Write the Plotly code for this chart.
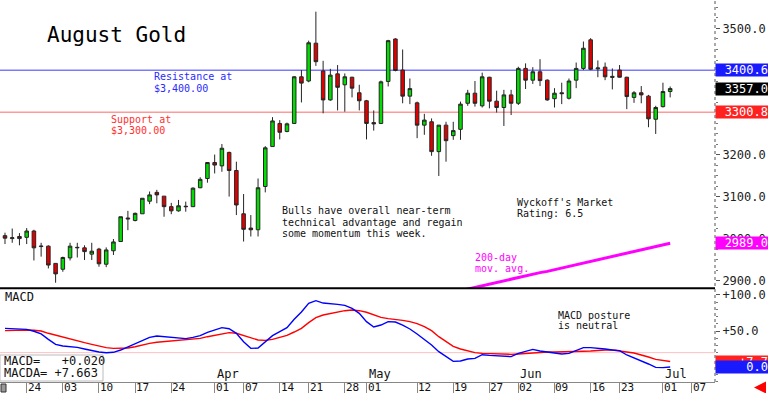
import pandas as pd
import plotly.graph_objects as go

# ---------------- data ----------------
holidays = ["2025-04-18", "2025-05-26", "2025-06-19"]
trade_days = [d for d in pd.bdate_range("2025-02-19", "2025-07-02") if d.strftime("%Y-%m-%d") not in holidays]
future_days = list(pd.bdate_range("2025-07-03", "2025-07-10"))
all_days = trade_days + future_days
day_index = {d.strftime("%Y-%m-%d"): i for i, d in enumerate(all_days)}

opens = [3007, 3000, 3005, 3003, 3018, 2981, 2982, 2941, 2927, 2954,
         2978, 2978, 2963, 2975, 2939, 2971, 2993, 3049, 3043, 3059,
         3089, 3110, 3101, 3076, 3066, 3077, 3076, 3121, 3143, 3181,
         3173, 3205, 3162, 3059, 3025, 3021, 3124, 3219, 3274, 3255,
         3274, 3385, 3375, 3465, 3399, 3330, 3392, 3366, 3384, 3347,
         3328, 3276, 3274, 3374, 3475, 3401, 3339, 3323, 3270, 3278,
         3207, 3270, 3245, 3260, 3322, 3346, 3316, 3384, 3327, 3312,
         3342, 3322, 3405, 3377, 3397, 3377, 3333, 3347, 3334, 3377,
         3405, 3473, 3404, 3408, 3386, 3401, 3384, 3336, 3347, 3339,
         3284, 3314, 3350]
highs = [3014, 3024, 3013, 3025, 3021, 2990, 2984, 2941, 2957, 2990,
         2990, 2984, 2990, 2978, 2979, 2999, 3052, 3066, 3062, 3096,
         3112, 3116, 3101, 3085, 3092, 3088, 3122, 3146, 3182, 3200,
         3225, 3207, 3183, 3106, 3056, 3143, 3220, 3289, 3282, 3276,
         3387, 3401, 3471, 3540, 3423, 3404, 3413, 3393, 3385, 3366,
         3330, 3305, 3376, 3473, 3477, 3450, 3381, 3326, 3297, 3286,
         3270, 3278, 3278, 3326, 3354, 3375, 3395, 3385, 3352, 3354,
         3354, 3409, 3417, 3408, 3427, 3379, 3358, 3371, 3381, 3419,
         3469, 3477, 3424, 3419, 3405, 3413, 3385, 3351, 3363, 3342,
         3316, 3371, 3362]
lows = [2987, 2990, 2984, 2987, 2948, 2957, 2929, 2895, 2921, 2948,
        2955, 2949, 2949, 2933, 2932, 2961, 2993, 3020, 3041, 3059,
        3082, 3084, 3052, 3058, 3064, 3064, 3075, 3120, 3133, 3155,
        3159, 3100, 3056, 2993, 3005, 3005, 3110, 3219, 3236, 3253,
        3273, 3324, 3372, 3411, 3298, 3328, 3305, 3302, 3336, 3305,
        3236, 3257, 3273, 3362, 3398, 3322, 3320, 3239, 3247, 3197,
        3149, 3183, 3235, 3235, 3316, 3314, 3312, 3310, 3300, 3268,
        3294, 3318, 3356, 3368, 3363, 3328, 3312, 3320, 3331, 3358,
        3401, 3401, 3384, 3377, 3355, 3383, 3308, 3323, 3322, 3265,
        3249, 3312, 3336]
closes = [3001, 3002, 3000, 3018, 2978, 2982, 2937, 2916, 2955, 2982,
          2979, 2969, 2970, 2940, 2973, 2992, 3052, 3047, 3060, 3096,
          3104, 3104, 3076, 3066, 3078, 3076, 3120, 3141, 3181, 3175,
          3215, 3162, 3080, 3022, 3021, 3121, 3216, 3280, 3253, 3273,
          3385, 3370, 3466, 3421, 3330, 3389, 3360, 3385, 3358, 3328,
          3274, 3273, 3373, 3471, 3400, 3339, 3357, 3270, 3282, 3207,
          3270, 3233, 3257, 3320, 3346, 3322, 3385, 3327, 3312, 3342,
          3322, 3405, 3377, 3397, 3376, 3330, 3346, 3345, 3375, 3405,
          3453, 3403, 3406, 3385, 3384, 3384, 3338, 3347, 3342, 3285,
          3312, 3350, 3357]

ma200 = [None] * 62 + [2872, 2876, 2880, 2884, 2888, 2892, 2895, 2899, 2903, 2907,
                       2911, 2915, 2919, 2922, 2926, 2930, 2934, 2938, 2942, 2946,
                       2950, 2954, 2958, 2962, 2966, 2970, 2974, 2978, 2982, 2985,
                       2989]

macd = [53.7, 53.2, 52.8, 52.3, 49.6, 45.9, 38.4, 31.5, 29.2, 28.2,
        27.3, 25.0, 22.7, 20.8, 19.9, 20.4, 23.6, 28.2, 31.9, 37.5,
        41.2, 43.1, 42.1, 41.2, 40.3, 39.4, 41.2, 43.5, 48.2, 51.4,
        54.6, 53.2, 46.8, 35.2, 25.9, 26.4, 35.2, 43.5, 49.1, 54.6,
        66.2, 76.4, 88.4, 92.1, 88.8, 88.4, 87.0, 85.6, 81.5, 74.5,
        63.0, 55.5, 58.3, 63.0, 62.5, 58.3, 52.8, 45.9, 38.4, 30.6,
        21.3, 14.4, 7.9, 8.3, 11.1, 12.0, 17.1, 16.2, 15.3, 14.8,
        14.4, 19.0, 21.8, 24.5, 22.2, 20.8, 19.4, 18.1, 19.0, 22.7,
        26.9, 26.9, 26.4, 25.0, 23.6, 22.7, 16.7, 12.5, 9.3, 4.2,
        -0.5, -0.9, 0.02]
macd_avg = [50.5, 51.0, 51.0, 51.4, 51.0, 50.0, 46.8, 44.0, 41.2, 38.9,
            36.6, 33.8, 31.5, 29.2, 26.9, 25.9, 25.9, 26.4, 28.2, 30.6,
            32.9, 34.3, 35.2, 36.6, 37.5, 38.4, 38.9, 39.8, 42.1, 44.0,
            46.3, 47.7, 46.8, 43.5, 40.3, 37.5, 37.0, 38.4, 41.2, 44.0,
            48.6, 53.7, 61.6, 68.5, 72.2, 74.5, 76.4, 78.2, 79.2, 78.2,
            76.0, 72.0, 68.9, 67.1, 66.2, 64.8, 63.0, 60.2, 56.0, 50.5,
            42.1, 35.2, 28.7, 25.0, 22.2, 19.9, 19.0, 18.5, 18.1, 17.6,
            17.6, 18.1, 19.0, 19.4, 20.4, 20.8, 20.8, 20.8, 20.8, 21.3,
            21.8, 22.2, 23.1, 23.6, 23.6, 22.7, 20.8, 19.4, 17.1, 13.9,
            10.6, 8.8, 7.663]

resistance = 3400.6
support = 3300.8
price_ticks = [2900, 3000, 3100, 3200, 3300, 3400, 3500]
price_hidden = [3300, 3400]          # labels covered by the marker boxes
macd_ticks = [0, 50, 100]
macd_ticktext = ["", "+50.0", "+100.0"]
tick_dates = ["2025-02-24", "2025-03-03", "2025-03-10", "2025-03-17", "2025-03-24",
              "2025-04-01", "2025-04-07", "2025-04-14", "2025-04-21", "2025-04-28",
              "2025-05-01", "2025-05-12", "2025-05-19", "2025-05-27", "2025-06-02",
              "2025-06-09", "2025-06-16", "2025-06-23", "2025-07-01", "2025-07-07"]
month_starts = {"Apr": "2025-04-01", "May": "2025-05-01", "Jun": "2025-06-02", "Jul": "2025-07-01"}

notes = {
    "title": "August Gold",
    "res": ["Resistance at", "$3,400.00"],
    "sup": ["Support at", "$3,300.00"],
    "bulls": ["Bulls have overall near-term", "technical advantage and regain",
              "some momentum this week."],
    "rating": ["Wyckoff's Market", "Rating: 6.5"],
    "ma": ["200-day", "mov. avg."],
    "macd_note": ["MACD posture", "is neutral"],
}

# ---------------- figure ----------------
W, H = 768, 393
PW, PH = 715, 382          # plot area in px
MONO = "DejaVu Sans Mono"
xs = list(range(len(closes)))
x_range = [-0.69, 98.2]
price_range = [2882.4, 3567.8]
macd_range = [-20.8, 108.3]


def px(x):
    return x / PW


def py(y):
    return (PH - y) / PH


fig = go.Figure()
fig.add_trace(go.Candlestick(
    x=xs, open=opens, high=highs, low=lows, close=closes,
    xaxis="x", yaxis="y", whiskerwidth=0,
    increasing=dict(fillcolor="#00dd00", line=dict(color="#252525", width=1)),
    decreasing=dict(fillcolor="#e00000", line=dict(color="#252525", width=1)),
    showlegend=False, hoverinfo="skip"))
fig.add_trace(go.Scatter(x=xs, y=ma200, mode="lines", xaxis="x", yaxis="y",
                         line=dict(color="#ff00ff", width=3), showlegend=False))
fig.add_trace(go.Scatter(x=xs, y=macd_avg, mode="lines", xaxis="x2", yaxis="y2",
                         line=dict(color="#ff0000", width=1.4), showlegend=False))
fig.add_trace(go.Scatter(x=xs, y=macd, mode="lines", xaxis="x2", yaxis="y2",
                         line=dict(color="#0000ff", width=1.4), showlegend=False))

split_top = py(288)
split_bot = py(289)
tick_idx = [day_index[d] for d in tick_dates]

fig.update_layout(
    width=W, height=H, margin=dict(l=0, r=W - PW, t=0, b=H - PH),
    paper_bgcolor="white", plot_bgcolor="white", hovermode=False,
    xaxis=dict(domain=[0, 1], anchor="y", range=x_range, showticklabels=False,
               showgrid=False, zeroline=False, rangeslider=dict(visible=False), ticks=""),
    yaxis=dict(domain=[split_top, 1], anchor="x", side="right", range=price_range,
               tickvals=price_ticks,
               ticktext=["" if v in price_hidden else f"{v:.1f}" for v in price_ticks],
               ticks="outside", ticklen=4, tickcolor="#555",
               minor=dict(dtick=25, ticks="outside", ticklen=2, tickcolor="#777"),
               tickfont=dict(family=MONO, size=12, color="#222"),
               showgrid=False, zeroline=False, showline=False),
    xaxis2=dict(domain=[0, 1], anchor="y2", range=x_range, tickvals=tick_idx,
                showticklabels=False, ticks="outside", ticklen=H - PH, tickcolor="#888",
                showline=True, linecolor="#888", linewidth=1, showgrid=False, zeroline=False),
    yaxis2=dict(domain=[0, split_bot], anchor="x2", side="right", range=macd_range,
                tickvals=macd_ticks, ticktext=macd_ticktext,
                ticks="outside", ticklen=4, tickcolor="#555",
                minor=dict(dtick=10, ticks="outside", ticklen=2, tickcolor="#777"),
                tickfont=dict(family=MONO, size=12, color="#222"),
                showgrid=False, zeroline=False),
)

shapes = [
    dict(type="line", xref="x domain", x0=0, x1=1, yref="y", y0=resistance, y1=resistance,
         line=dict(color="#7a7aff", width=1.5), layer="below"),
    dict(type="line", xref="x domain", x0=0, x1=1, yref="y", y0=support, y1=support,
         line=dict(color="#ff9a9a", width=1.5), layer="below"),
    dict(type="line", xref="x2 domain", x0=0, x1=1, yref="y2", y0=20, y1=20,
         line=dict(color="#ffc0c0", width=1), layer="below"),
    dict(type="line", xref="paper", x0=0, x1=1, yref="paper", y0=py(288.3), y1=py(288.3),
         line=dict(color="#000", width=2)),
    dict(type="line", xref="paper", x0=1, x1=1, yref="paper", y0=0, y1=1,
         line=dict(color="#555", width=1, dash="dot")),
    dict(type="rect", xref="paper", x0=0, x1=px(103), yref="paper", y0=py(381), y1=py(355),
         line=dict(color="#bbb", width=1), fillcolor="white"),
    dict(type="rect", xref="paper", x0=px(1), x1=px(6), yref="paper", y0=py(392), y1=py(384),
         line=dict(color="#333", width=1), fillcolor="#999"),
]
fig.update_layout(shapes=shapes)

ann = []


def text(x, y, s, color="#111", size=10, anchor="left"):
    ann.append(dict(xref="paper", yref="paper", x=px(x), y=py(y), text=s, showarrow=False,
                    xanchor=anchor, yanchor="middle", font=dict(family=MONO, size=size, color=color)))


text(45, 35, notes["title"], "#000", 21)
for k, line in enumerate(notes["res"]):
    text(152, 77 + 11 * k, line, "#2a2aff")
for k, line in enumerate(notes["sup"]):
    text(109, 119 + 11 * k, line, "#ff3030")
for k, line in enumerate(notes["bulls"]):
    text(280, 211 + 11 * k, line, "#111")
for k, line in enumerate(notes["rating"]):
    text(515, 202 + 11 * k, line, "#111")
for k, line in enumerate(notes["ma"]):
    text(473, 257 + 11 * k, line, "#ff00ff")
for k, line in enumerate(notes["macd_note"]):
    text(556, 315 + 10.5 * k, line, "#111")
text(3, 297, "MACD", "#111", 12)
text(2, 361, f"MACD=   {macd[-1]:+.3f}", "#111", 12)
text(2, 373, f"MACDA= {macd_avg[-1]:+.3f}", "#111", 12)

for name, d in month_starts.items():
    ann.append(dict(xref="x2", yref="paper", x=day_index[d], y=py(374), text=name,
                    showarrow=False, xanchor="left", yanchor="middle", xshift=0,
                    font=dict(family=MONO, size=12, color="#111")))
for d, i in zip(tick_dates, tick_idx):
    ann.append(dict(xref="x2", yref="paper", x=i, y=py(387), text=d[-2:],
                    showarrow=False, xanchor="left", yanchor="middle", xshift=0, borderpad=0,
                    font=dict(family=MONO, size=11, color="#111")))

boxes = [
    (resistance, "#1a1aff"), (closes[-1], "#000000"), (support, "#ff2020"),
]


def box(yref, v, color, label):
    ann.append(dict(xref="paper", x=1, xanchor="left", yref=yref, y=v, yanchor="middle",
                    text=label, showarrow=False, width=W - PW - 1, height=12,
                    align="right", bgcolor=color, borderpad=0,
                    font=dict(family=MONO, size=12, color="white")))


for v, c in boxes:
    box("y", v, c, f"{v:.1f}")
box("y", ma200[-1], "#ff00ff", f"{ma200[-1]:.1f}")
box("y2", macd_avg[-1], "#ff2020", f"{macd_avg[-1]:+.1f}")
box("y2", macd[-1], "#1a1aff", f"{macd[-1]:.1f}")
ann.append(dict(xref="paper", yref="paper", x=px(754), y=py(387.5), ax=10, ay=0,
                text="", showarrow=True, arrowhead=2, arrowsize=0.8, arrowwidth=3,
                arrowcolor="#ff0000"))
fig.update_layout(annotations=ann)

fig.write_html("out.html", config={"displayModeBar": False},
               post_script="document.body.style.margin='0';")
